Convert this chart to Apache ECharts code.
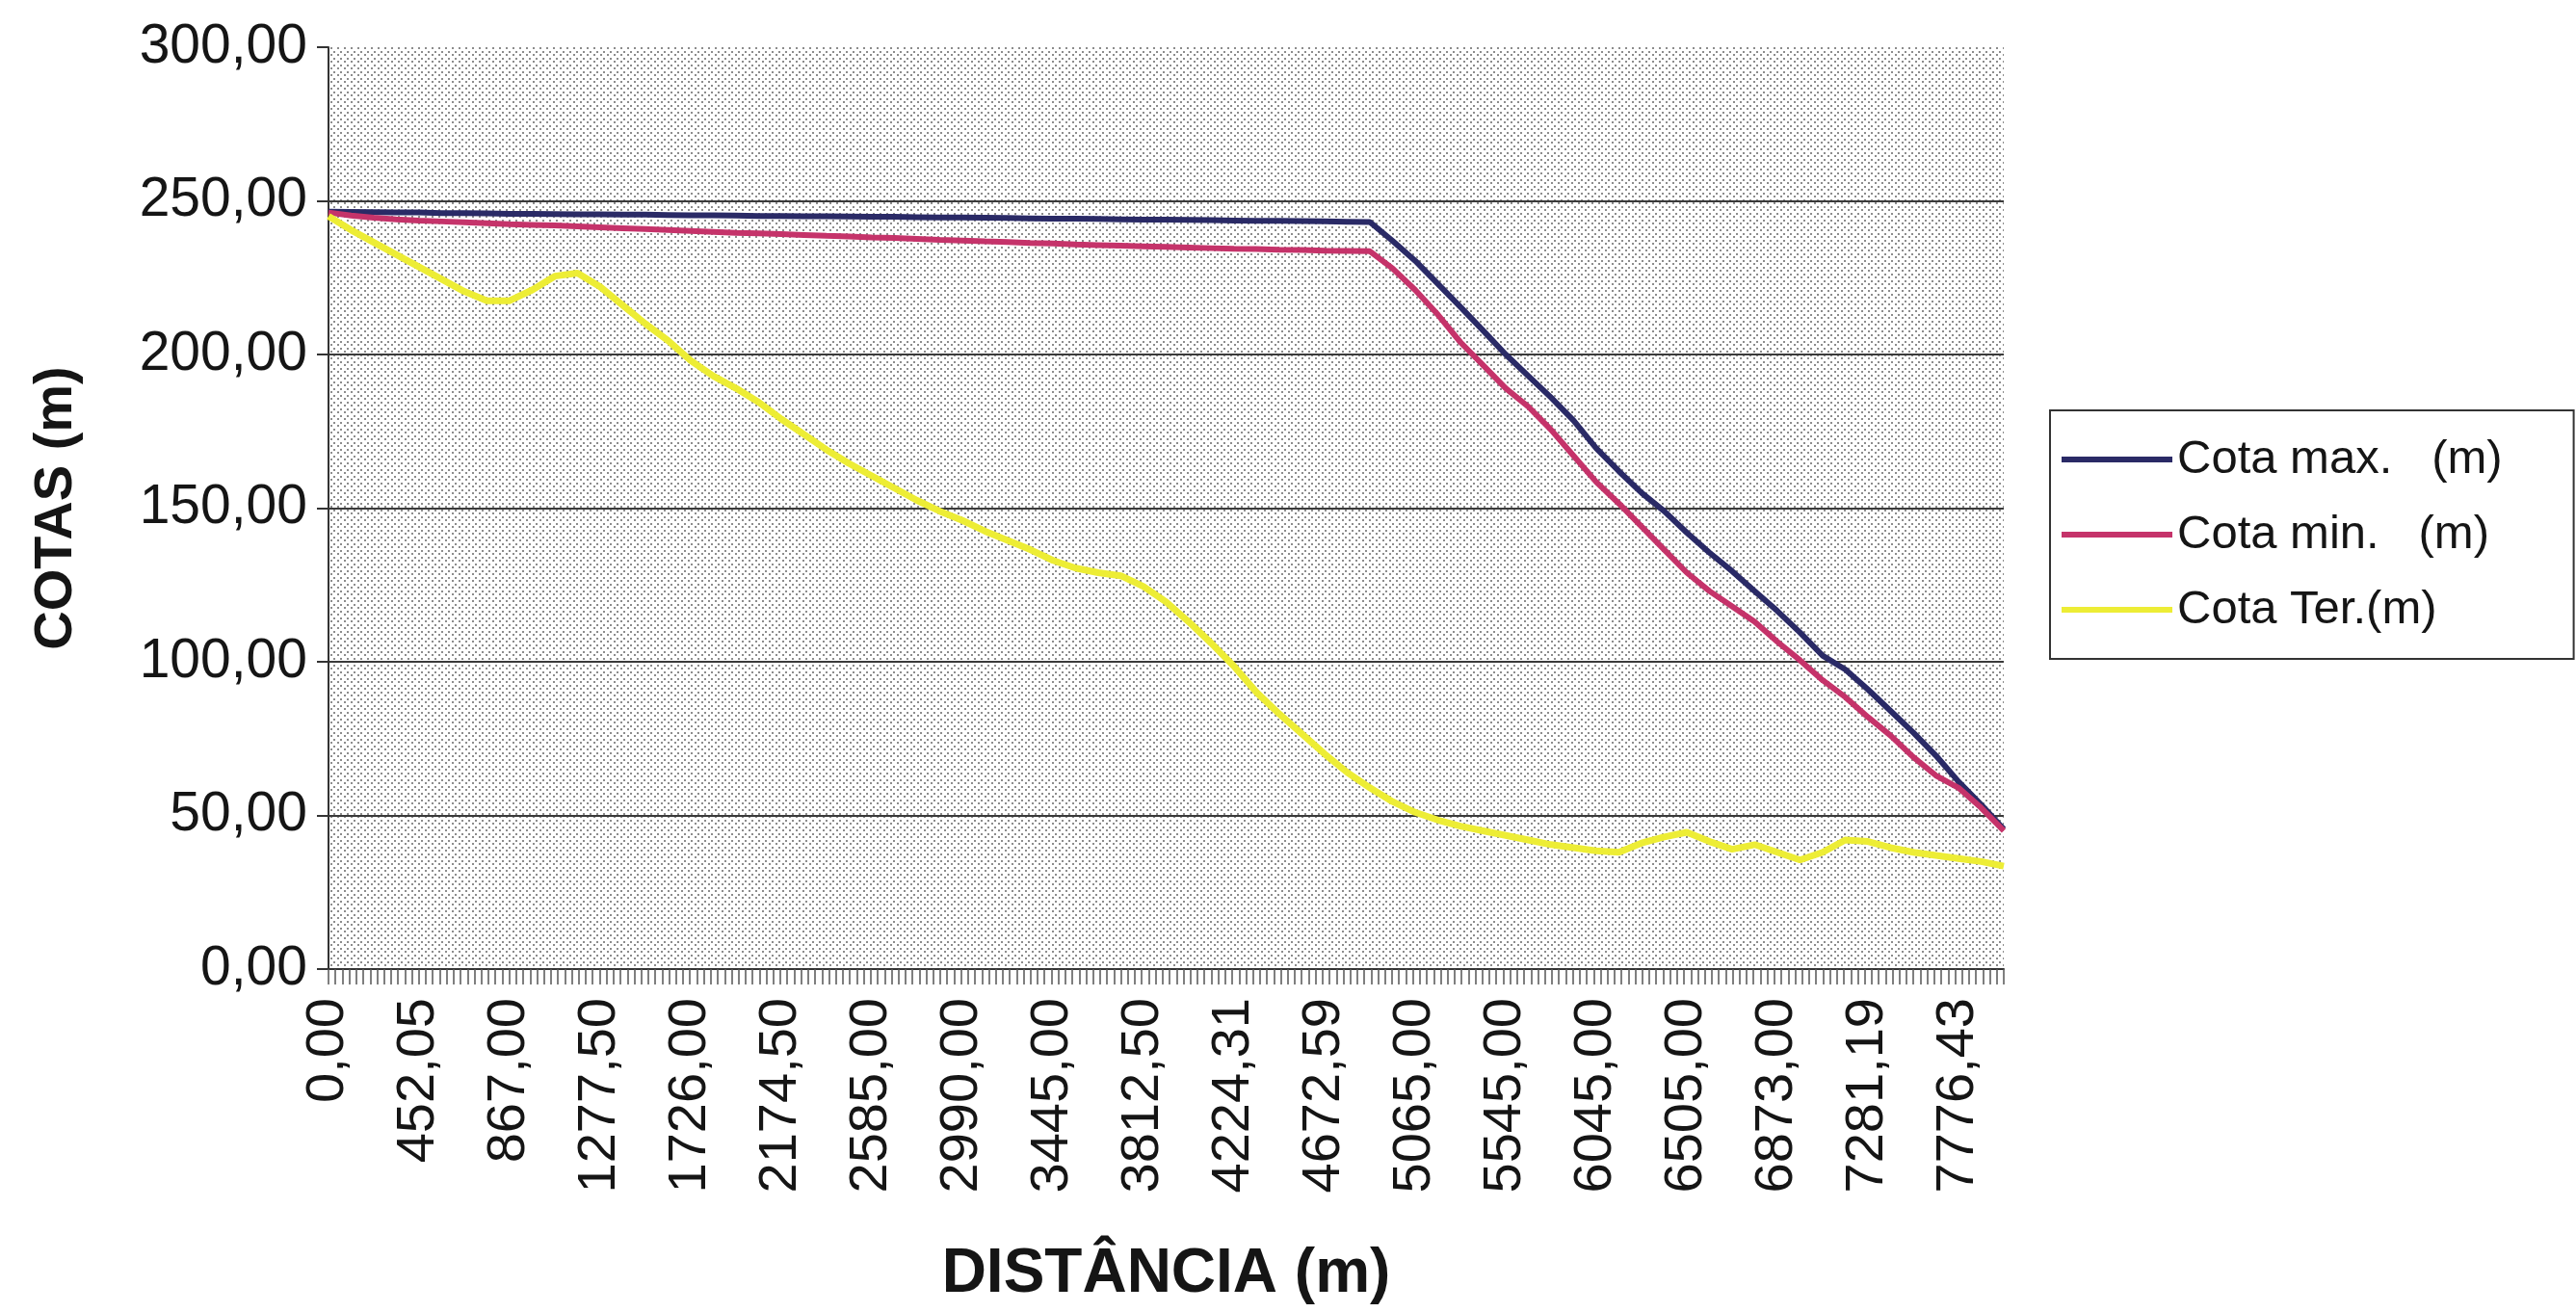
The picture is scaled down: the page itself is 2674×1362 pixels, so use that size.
<!DOCTYPE html>
<html>
<head>
<meta charset="utf-8">
<script src="https://cdn.jsdelivr.net/npm/echarts@6/dist/echarts.min.js"></script>
<style>
  html, body { margin: 0; padding: 0; background: #ffffff; }
  #chart { width: 2674px; height: 1362px; }
</style>
</head>
<body>
<div id="chart"></div>
<script>
// Distance stations shown on the horizontal axis (one label every 4 points)
const distanceLabels = [
  '0,00', '452,05', '867,00', '1277,50', '1726,00', '2174,50', '2585,00',
  '2990,00', '3445,00', '3812,50', '4224,31', '4672,59', '5065,00',
  '5545,00', '6045,00', '6505,00', '6873,00', '7281,19', '7776,43'
];
const pointsPerLabel = 4;
const pointsAfterLastLabel = 2;

// Elevations (m) along the profile
const cotaMax = [
  246.5, 246.4, 246.3, 246.2, 246.2, 246.0, 246.0, 245.9, 245.8, 245.8,
  245.7, 245.6, 245.6, 245.5, 245.5, 245.4, 245.3, 245.3, 245.2, 245.1,
  245.1, 245.0, 245.0, 244.9, 244.8, 244.8, 244.7, 244.6, 244.6, 244.5,
  244.4, 244.3, 244.2, 244.2, 244.1, 244.0, 243.9, 243.9, 243.8, 243.7,
  243.6, 243.5, 243.5, 243.4, 243.3, 243.2, 243.1,
  237.0, 230.5, 223.0, 215.5, 207.8, 200.0, 193.0, 186.0, 178.5, 169.5,
  162.0, 155.0, 149.0, 142.0, 135.5, 129.5, 123.0, 116.5, 109.5, 102.0,
  97.5, 91.0, 84.0, 77.0, 69.5, 61.0, 53.5, 45.5
];
const cotaMin = [
  246.2, 245.2, 244.5, 244.0, 243.6, 243.3, 243.0, 242.7, 242.4, 242.2,
  242.0, 241.7, 241.4, 241.1, 240.8, 240.5, 240.2, 239.9, 239.6, 239.4,
  239.2, 238.9, 238.6, 238.4, 238.1, 237.9, 237.6, 237.3, 237.1, 236.8,
  236.6, 236.3, 236.1, 235.8, 235.6, 235.4, 235.2, 235.0, 234.8, 234.6,
  234.4, 234.3, 234.1, 234.0, 233.8, 233.7, 233.6,
  228.0, 221.0, 213.0, 204.0, 196.5, 189.0, 183.0, 175.5, 167.0, 158.5,
  151.5, 144.0, 136.5, 129.0, 123.0, 118.0, 113.0, 106.5, 100.5, 94.0,
  88.5, 82.0, 76.0, 69.0, 63.0, 59.0, 52.5, 45.0
];
const cotaTer = [
  245.0, 240.5, 236.5, 232.5, 228.5, 224.5, 220.5, 217.5, 217.5, 221.0,
  225.5, 226.5, 222.0, 216.0, 210.0, 204.5, 198.0, 193.0, 189.0, 184.5,
  179.0, 174.0, 169.0, 164.5, 160.5, 156.5, 152.5, 149.0, 146.0, 142.5,
  139.5, 136.5, 133.0, 130.5, 129.0, 128.0, 124.5, 119.5, 113.0, 106.0,
  98.5, 90.0, 83.0, 76.5, 70.0, 64.0, 59.0, 54.5, 51.0, 48.5,
  46.5, 45.0, 43.5, 42.0, 40.5, 39.5, 38.5, 38.0, 41.0, 43.0,
  44.5, 41.5, 39.0, 40.5, 38.0, 35.5, 38.0, 42.0, 41.5, 39.5,
  38.0, 37.0, 36.0, 35.0, 33.5
];

const seriesNames = ['Cota max.   (m)', 'Cota min.   (m)', 'Cota Ter.(m)'];
const yTicks = [0, 50, 100, 150, 200, 250, 300];

// Category list: every 4th point carries a station label
const categories = [];
const totalPoints = (distanceLabels.length - 1) * pointsPerLabel + pointsAfterLastLabel + 1;
for (let i = 0; i < totalPoints; i++) {
  categories.push(i % pointsPerLabel === 0 ? (distanceLabels[i / pointsPerLabel] || '') : '');
}

const FONT = '"Liberation Sans", Arial, sans-serif';

// Fine dotted fill for the plotting area
function dotPattern() {
  const c = document.createElement('canvas');
  c.width = 7; c.height = 7;
  const g = c.getContext('2d');
  g.fillStyle = '#ffffff';
  g.fillRect(0, 0, 7, 7);
  g.fillStyle = '#8c8c8c';
  g.fillRect(0, 0, 2, 2);
  g.fillRect(3, 4, 2, 2);
  return c;
}

const chart = echarts.init(document.getElementById('chart'), null, { renderer: 'canvas' });

chart.setOption({
  animation: false,
  backgroundColor: '#ffffff',
  textStyle: { fontFamily: FONT },
  grid: {
    show: true,
    left: 341, right: 594, top: 49, bottom: 356,
    borderWidth: 0,
    backgroundColor: { image: dotPattern(), repeat: 'repeat' }
  },
  legend: {
    orient: 'vertical',
    left: 2128, top: 426,
    icon: 'rect',
    itemWidth: 115, itemHeight: 6, itemGap: 20,
    padding: [22, 74, 22, 12],
    borderColor: '#333333', borderWidth: 2, borderRadius: 0,
    textStyle: { fontFamily: FONT, fontSize: 49, color: '#151515', lineHeight: 58, padding: [0, 0, 0, 0] },
    data: seriesNames
  },
  xAxis: [
    {
      type: 'category',
      data: categories,
      boundaryGap: false,
      name: 'DISTÂNCIA (m)',
      nameLocation: 'middle',
      nameGap: 285,
      nameTextStyle: { fontFamily: FONT, fontSize: 64, fontWeight: 'bold', color: '#151515' },
      axisLine: { show: true, lineStyle: { color: '#333333', width: 2 } },
      axisTick: { show: false },
      axisLabel: {
        interval: pointsPerLabel - 1,
        rotate: 90,
        margin: 30,
        fontFamily: FONT, fontSize: 56, color: '#151515'
      },
      splitLine: { show: false }
    },
    {
      // dense category tick marks along the bottom edge
      type: 'value',
      position: 'bottom',
      min: 0, max: 241, interval: 1,
      axisLine: { show: false },
      axisTick: { show: true, length: 16, lineStyle: { color: '#555555', width: 1.5 } },
      axisLabel: { show: false },
      splitLine: { show: false }
    }
  ],
  yAxis: {
    type: 'value',
    min: yTicks[0], max: yTicks[yTicks.length - 1], interval: yTicks[1] - yTicks[0],
    name: 'COTAS (m)',
    nameLocation: 'middle',
    nameGap: 254,
    nameTextStyle: { fontFamily: FONT, fontSize: 56, fontWeight: 'bold', color: '#151515' },
    axisLine: { show: true, lineStyle: { color: '#333333', width: 2 } },
    axisTick: { show: true, length: 12, lineStyle: { color: '#333333', width: 2 } },
    axisLabel: {
      margin: 22,
      fontFamily: FONT, fontSize: 57, color: '#151515',
      formatter: v => v.toFixed(2).replace('.', ',')
    },
    splitLine: { show: true, showMaxLine: false, lineStyle: { color: '#3a3a3a', width: 2 } }
  },
  series: [
    {
      name: seriesNames[0], type: 'line', data: cotaMax, xAxisIndex: 0,
      symbol: 'none', smooth: false,
      lineStyle: { color: '#2a2a66', width: 6 }, itemStyle: { color: '#2a2a66' }
    },
    {
      name: seriesNames[1], type: 'line', data: cotaMin, xAxisIndex: 0,
      symbol: 'none', smooth: false,
      lineStyle: { color: '#c5336a', width: 6 }, itemStyle: { color: '#c5336a' }
    },
    {
      name: seriesNames[2], type: 'line', data: cotaTer, xAxisIndex: 0,
      symbol: 'none', smooth: false,
      lineStyle: { color: '#eded35', width: 7 }, itemStyle: { color: '#eded35' }
    }
  ]
});
</script>
</body>
</html>
